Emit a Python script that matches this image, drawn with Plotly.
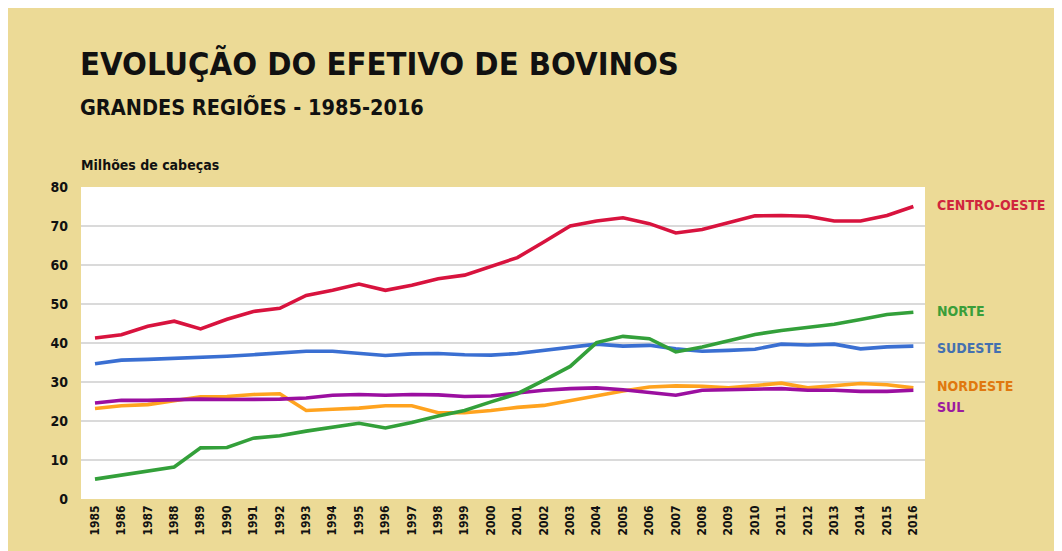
import plotly.graph_objects as go

years = list(range(1985, 2017))

centro_oeste = [41.3, 42.1, 44.3, 45.6, 43.6, 46.1, 48.1, 48.9, 52.2, 53.5, 55.1, 53.5, 54.8, 56.5, 57.4, 59.7,
                61.9, 65.9, 70.0, 71.3, 72.1, 70.6, 68.2, 69.1, 70.8, 72.6, 72.7, 72.5, 71.3, 71.3, 72.7, 75.0]
norte = [5.1, 6.2, 7.1, 8.2, 13.1, 13.2, 15.6, 16.2, 17.4, 18.3, 19.4, 18.2, 19.6, 21.3, 22.7, 24.9,
         27.0, 30.4, 34.0, 40.1, 41.7, 41.1, 37.7, 39.0, 40.5, 42.2, 43.2, 43.9, 44.8, 46.0, 47.3, 47.9]
sudeste = [34.7, 35.6, 35.8, 36.0, 36.4, 36.6, 37.0, 37.5, 37.9, 37.9, 37.4, 36.8, 37.2, 37.3, 37.0, 36.9,
           37.3, 38.1, 39.0, 39.7, 39.2, 39.4, 38.5, 37.9, 38.1, 38.4, 39.7, 39.5, 39.7, 38.5, 39.0, 39.2]
nordeste = [23.2, 23.9, 24.2, 25.1, 26.2, 26.3, 26.8, 27.0, 22.7, 23.0, 23.3, 23.9, 23.9, 22.1, 22.1, 22.7,
            23.5, 24.0, 25.3, 26.4, 27.7, 28.7, 29.0, 28.9, 28.5, 29.1, 29.7, 28.5, 29.1, 29.6, 29.3, 28.5]
sul = [24.6, 25.3, 25.3, 25.5, 25.6, 25.5, 25.5, 25.6, 25.9, 26.6, 26.8, 26.6, 26.8, 26.7, 26.3, 26.4,
       27.2, 27.9, 28.3, 28.5, 28.0, 27.4, 26.6, 27.9, 28.1, 28.1, 28.3, 27.9, 27.9, 27.6, 27.6, 27.9]

series = [
    ("NORDESTE", nordeste, "#FFA31F"),
    ("SUL", sul, "#9B0FA0"),
    ("SUDESTE", sudeste, "#3A6FD2"),
    ("NORTE", norte, "#33A03A"),
    ("CENTRO-OESTE", centro_oeste, "#D8133E"),
]

labels = [
    ("CENTRO-OESTE", 75.3, "#D0263D"),
    ("NORTE", 48.1, "#3A9E3A"),
    ("SUDESTE", 38.6, "#4470B0"),
    ("NORDESTE", 28.9, "#E0780F"),
    ("SUL", 23.5, "#9B1BA0"),
]

yticks = [0, 10, 20, 30, 40, 50, 60, 70, 80]

FONT = "DejaVu Sans Condensed, Roboto, sans-serif"
BEIGE = "#ECDA96"

fig = go.Figure()
for name, vals, col in series:
    fig.add_trace(go.Scatter(x=years, y=vals, mode="lines", name=name,
                             line=dict(color=col, width=3.6), showlegend=False))

# page offset of the figure inside the browser window
OFF = 8
W, H = 1062, 551
L, R, T, B = 73, 145, 179, 60
pw, ph = W - L - R, H - T - B

def px_x(px):
    return (px - OFF - L) / pw

def px_y(py):
    return (H - B - (py - OFF)) / ph

ann = []
for text, yv, col in labels:
    ann.append(dict(x=1, y=yv, xref="paper", yref="y", xanchor="left", yanchor="middle",
                    xshift=10, text="<b>" + text + "</b>", showarrow=False,
                    font=dict(family=FONT, size=14, color=col)))

ann.append(dict(x=px_x(78), y=px_y(64), xref="paper", yref="paper", xanchor="left", yanchor="middle",
                text="<b>EVOLUÇÃO DO EFETIVO DE BOVINOS</b>", showarrow=False,
                font=dict(family=FONT, size=32.5, color="#111111")))
ann.append(dict(x=px_x(78), y=px_y(107), xref="paper", yref="paper", xanchor="left", yanchor="middle",
                text="<b>GRANDES REGIÕES - 1985-2016</b>", showarrow=False,
                font=dict(family=FONT, size=21.5, color="#111111")))
ann.append(dict(x=px_x(79), y=px_y(165), xref="paper", yref="paper", xanchor="left", yanchor="middle",
                text="<b>Milhões de cabeças</b>", showarrow=False,
                font=dict(family=FONT, size=14, color="#111111")))

fig.update_layout(
    width=W, height=H,
    margin=dict(l=L, r=R, t=T, b=B, pad=0),
    paper_bgcolor=BEIGE, plot_bgcolor="white",
    annotations=ann,
    font=dict(family=FONT, color="#111111"),
)
fig.update_xaxes(range=[1984.47, 2016.44], tickmode="array", tickvals=years,
                 ticktext=["<b>%d</b>" % y for y in years], tickangle=-90,
                 tickfont=dict(family=FONT, size=12, color="#111111"),
                 showgrid=False, zeroline=False, showline=False, ticks="",
                 ticklabelstandoff=3)
fig.update_yaxes(range=[0, 80], tickmode="array", tickvals=yticks,
                 ticktext=["<b>%d</b>" % v for v in yticks],
                 tickfont=dict(family=FONT, size=14, color="#111111"),
                 showgrid=True, gridcolor="#DADADA", gridwidth=2, zeroline=False,
                 showline=False, ticks="", ticklabelstandoff=12)

fig.write_html("out.html")
